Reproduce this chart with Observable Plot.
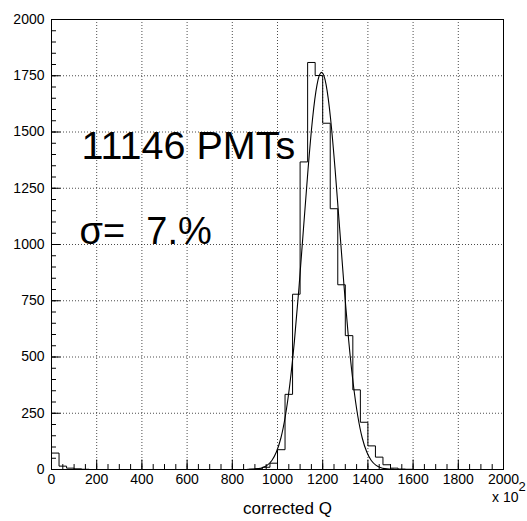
<!DOCTYPE html>
<html><head><meta charset="utf-8">
<script src="https://cdn.jsdelivr.net/npm/d3@7"></script>
<script src="https://cdn.jsdelivr.net/npm/@observablehq/plot@0.6"></script>
<style>body{margin:0;background:#fff} svg{display:block}</style>
</head><body><div id="chart"></div>
<script>
// Histogram: 60 bins between 0 and 2000 (x 10^2)
const binLow = 0, binHigh = 2000;
const counts = [
  73, 15, 6, 3, 1, 0, 0, 0, 0, 0,
  0, 0, 0, 0, 0, 0, 0, 0, 0, 0,
  0, 0, 0, 0, 0, 0, 1, 3, 10, 28,
  88, 334, 779, 1367, 1809, 1751, 1539, 1159, 821, 595,
  354, 210, 105, 55, 21, 6, 2, 1, 0, 0,
  0, 0, 0, 0, 0, 0, 0, 0, 0, 0
];
// Gaussian fit curve
const fitX = [875, 895, 915, 935, 955, 975, 995, 1015, 1035, 1055, 1075, 1095, 1115, 1135, 1155, 1175, 1195,
              1215, 1235, 1255, 1275, 1295, 1315, 1335, 1355, 1375, 1395, 1415, 1435, 1455, 1475, 1495, 1515];
const fitY = [0.6, 1.6, 3.9, 9, 19.6, 40, 78, 140, 239, 382, 573, 808, 1071, 1332, 1558, 1711, 1765,
              1711, 1558, 1332, 1071, 808, 573, 382, 239, 140, 78, 40, 19.6, 9, 3.9, 1.6, 0.6];
const xTicks = [0, 200, 400, 600, 800, 1000, 1200, 1400, 1600, 1800, 2000];
const yTicks = [0, 250, 500, 750, 1000, 1250, 1500, 1750, 2000];
const xMinor = d3.range(0, 2001, 50);
const yMinor = d3.range(0, 2001, 50);
const annotations = ["11146 PMTs", "σ=  7.%"];
const xTitle = "corrected Q";
const xMultiplier = ["x 10", "2"];

const bw = (binHigh - binLow) / counts.length;
const hist = counts.map((c, i) => ({x: binLow + i * bw, y: c}));
hist.push({x: binHigh, y: counts[counts.length - 1]});
const fit = fitX.map((x, i) => ({x, y: fitY[i]}));
const inner = v => v > 0 && v < 2000;

const chart = Plot.plot({
  width: 527, height: 521,
  marginLeft: 51, marginRight: 24, marginTop: 19, marginBottom: 52,
  x: {domain: [0, 2000]},
  y: {domain: [0, 2000]},
  style: {fontFamily: "'Liberation Sans', Arial, Helvetica, sans-serif", fontSize: "14px", color: "#000", background: "#fff"},
  marks: [
    Plot.gridX(xTicks.filter(inner), {stroke: "#000", strokeOpacity: 0.7, strokeDasharray: "1,2"}),
    Plot.gridY(yTicks.filter(inner), {stroke: "#000", strokeOpacity: 0.7, strokeDasharray: "1,2"}),
    Plot.ruleX(xMinor, {y1: 0, y2: 22, stroke: "#000"}),
    Plot.ruleX(xTicks, {y1: 0, y2: 42, stroke: "#000"}),
    Plot.ruleY(yMinor, {x1: 0, x2: 22, stroke: "#000"}),
    Plot.ruleY(yTicks, {x1: 0, x2: 42, stroke: "#000"}),
    Plot.frame({stroke: "#000"}),
    Plot.axisX({ticks: xTicks, tickSize: 0, tickPadding: 5, tickFormat: "d", label: null, fontSize: 14}),
    Plot.axisY({ticks: yTicks, tickSize: 0, tickPadding: 7, tickFormat: "d", label: null, fontSize: 14}),
    Plot.line(hist, {x: "x", y: "y", curve: "step-after", stroke: "#000", strokeWidth: 1}),
    Plot.line(fit, {x: "x", y: "y", curve: "natural", stroke: "#000", strokeWidth: 1.1}),
    Plot.text([annotations[0]], {frameAnchor: "top-left", dx: 30, dy: 126.5, textAnchor: "start", lineAnchor: "middle", fontSize: 39.5}),
    Plot.text([annotations[1]], {frameAnchor: "top-left", dx: 28, dy: 212, textAnchor: "start", lineAnchor: "middle", fontSize: 38}),
    Plot.text([xTitle], {frameAnchor: "bottom", dx: 10, dy: 39.5, lineAnchor: "middle", fontSize: 17}),
    Plot.text([xMultiplier[0]], {frameAnchor: "bottom-right", dx: 15, dy: 28, textAnchor: "end", lineAnchor: "middle", fontSize: 14}),
    Plot.text([xMultiplier[1]], {frameAnchor: "bottom-right", dx: 15, dy: 17.5, textAnchor: "start", lineAnchor: "middle", fontSize: 13})
  ]
});
document.getElementById("chart").appendChild(chart);
</script>
</body></html>
